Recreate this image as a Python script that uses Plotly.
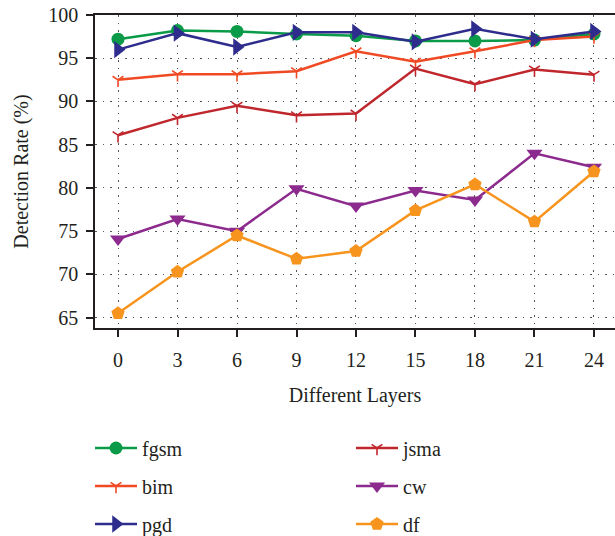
import plotly.graph_objects as go

layers = [0, 3, 6, 9, 12, 15, 18, 21, 24]

fgsm = [97.2, 98.2, 98.1, 97.8, 97.6, 97.0, 97.0, 97.1, 97.8]
bim = [92.5, 93.15, 93.15, 93.5, 95.8, 94.6, 95.8, 97.1, 97.5]
pgd = [96.0, 97.9, 96.3, 98.0, 98.0, 96.9, 98.4, 97.2, 98.1]
jsma = [86.1, 88.1, 89.5, 88.4, 88.6, 93.8, 92.0, 93.7, 93.1]
cw = [74.1, 76.4, 75.0, 79.9, 77.9, 79.7, 78.6, 84.0, 82.4]
df = [65.5, 70.3, 74.5, 71.8, 72.7, 77.4, 80.4, 76.1, 81.9]

series = [
    ("fgsm", fgsm, "#0a9a48", "circle", 13, "legend"),
    ("bim", bim, "#f04a24", "y-down-open", 9, "legend"),
    ("pgd", pgd, "#2e2c8c", "triangle-right", 15, "legend"),
    ("jsma", jsma, "#c0272d", "y-down-open", 9, "legend2"),
    ("cw", cw, "#8c2a8d", "triangle-down", 14, "legend2"),
    ("df", df, "#f7941d", "pentagon", 14, "legend2"),
]

W, H = 615, 536
L, R, T, B = 95, 0, 15, 208
PW, PH = W - L - R, H - T - B


def px_to_paper(x, y):
    return (x - L) / PW, (H - B - y) / PH


fig = go.Figure()
for name, vals, color, sym, size, leg in series:
    marker = dict(symbol=sym, size=size, color=color)
    if sym.startswith("y-"):
        marker["line"] = dict(color=color, width=1.6)
    fig.add_trace(go.Scatter(
        x=layers, y=vals, name=name, mode="lines+markers",
        line=dict(color=color, width=2.5), marker=marker,
        legend=leg, legendgroup=name,
    ))

font = dict(family="Liberation Serif", size=20, color="#231f20")
axis_common = dict(
    showline=True, linecolor="#231f20", linewidth=1.5, mirror=True,
    ticks="outside", ticklen=7, tickwidth=1.5, tickcolor="#231f20",
    showgrid=True, gridcolor="#555555", gridwidth=1, griddash="1.5px,6px",
    zeroline=False, tickfont=font,
)

legend_common = dict(xref="paper", yref="paper", xanchor="left", yanchor="middle",
                     orientation="v", tracegroupgap=9, itemwidth=42,
                     font=font, bgcolor="rgba(0,0,0,0)")

lx1, ly = px_to_paper(90, 486)
lx2, _ = px_to_paper(351, 486)

fig.update_layout(
    width=W, height=H,
    margin=dict(l=L, r=R, t=T, b=B, autoexpand=False),
    paper_bgcolor="white", plot_bgcolor="white",
    font=font,
    xaxis=dict(axis_common, range=[-1.16, 25.06], tickvals=layers, ticklabelstandoff=6,
               title=dict(text="Different Layers", font=font, standoff=18)),
    yaxis=dict(axis_common, range=[63.8, 100], tickvals=[65, 70, 75, 80, 85, 90, 95, 100],
               ticklabelstandoff=4,
               title=dict(text="Detection Rate (%)", font=font, standoff=14)),
    legend=dict(legend_common, x=lx1, y=ly),
    legend2=dict(legend_common, x=lx2, y=ly),
)

fig.write_html("out.html")
